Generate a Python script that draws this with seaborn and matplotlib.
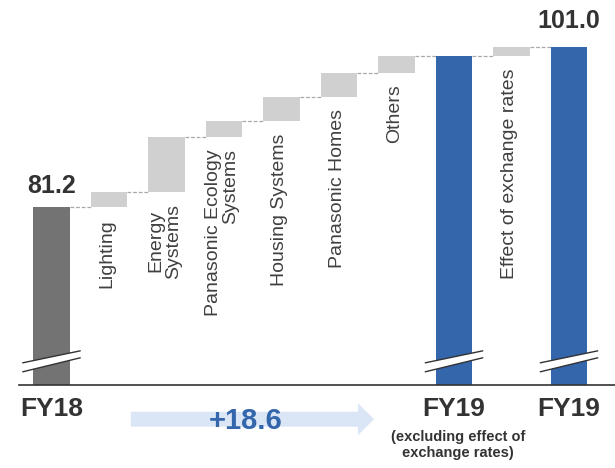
import numpy as np
import pandas as pd
import seaborn as sns
import matplotlib.pyplot as plt
from matplotlib.patches import Polygon, FancyArrow

# values
fy18 = 81.2
segments = ['Lighting', 'Energy Systems', 'Panasonic Ecology Systems',
            'Housing Systems', 'Panasonic Homes', 'Others']
segment_change = [1.9, 6.7, 2.0, 3.0, 3.0, 2.0]
fy19_excl = 99.8
fx_name = 'Effect of exchange rates'
fx_change = 1.2
fy19 = 101.0

seg_labels = ['Lighting', 'Energy\nSystems', 'Panasonic Ecology\nSystems',
              'Housing Systems', 'Panasonic Homes', 'Others']
seg_align = ['center', 'center', 'right', 'center', 'center', 'center']

cats = ['FY18'] + segments + ['FY19 excl', fx_name, 'FY19']

# build waterfall table
tops = np.cumsum([fy18] + segment_change)
totals = pd.DataFrame({'cat': ['FY18', 'FY19 excl', 'FY19'],
                       'value': [fy18, fy19_excl, fy19]})
steps = pd.DataFrame({'cat': segments + [fx_name],
                      'bottom': list(tops[:-1]) + [fy19_excl],
                      'height': segment_change + [fx_change]})

GRAY_TXT = '#404040'
DARK = '#333333'
BLUE = '#3466ac'

sns.set_style('white')
plt.rcParams['font.family'] = ['Liberation Sans', 'DejaVu Sans']

fig = plt.figure(figsize=(6.15, 4.68), dpi=100)
ax = fig.add_axes([19 / 615, 1 - 385 / 468, 1 - 19 / 615, 385 / 468])

sns.barplot(data=totals, x='cat', y='value', hue='cat', order=cats,
            palette={'FY18': '#737373', 'FY19 excl': BLUE, 'FY19': BLUE},
            saturation=1, width=0.64, errorbar=None, legend=False, ax=ax,
            linewidth=0, zorder=2)
sns.barplot(data=steps, x='cat', y='height', order=cats,
            bottom=steps['bottom'].values, color='#d0d0d0',
            saturation=1, width=0.64, errorbar=None, ax=ax,
            linewidth=0, zorder=2)

ax.set_xlim(-0.565, 9.8)
ax.set_ylim(59.2, 106.76)

# dashed connectors between bar tops
conn = [fy18] + list(tops[1:]) + [fy19_excl, fy19_excl + fx_change]
for i in range(len(cats) - 1):
    ax.hlines(conn[i], i + 0.32, i + 1 - 0.32, colors='#a8a8a8',
              linestyles=(0, (3, 1.5)), lw=0.9, zorder=1)

# axis break marks on the total bars
for i in [0, 7, 9]:
    lo = [(i - 0.5, 60.83), (i + 0.5, 62.56)]
    hi = [(i - 0.5, 61.94), (i + 0.5, 63.42)]
    ax.add_patch(Polygon(lo + hi[::-1], closed=True, facecolor='white',
                         edgecolor='none', zorder=3))
    for ln in (lo, hi):
        ax.plot([ln[0][0], ln[1][0]], [ln[0][1], ln[1][1]], color=DARK,
                lw=1, zorder=4)

# rotated segment labels under each floating bar
for k, (lab, al) in enumerate(zip(seg_labels + [fx_name],
                                  seg_align + ['center'])):
    pos = cats.index((segments + [fx_name])[k])
    ax.text(pos - 0.03, steps['bottom'][k] - 1.5, lab, rotation=90,
            ha='center', va='top', multialignment=al, fontsize=14,
            color=GRAY_TXT, linespacing=1.0)

# value labels
ax.text(0, fy18 + 2.6, f'{fy18:.1f}', ha='center', va='center',
        fontsize=18, fontweight='bold', color=DARK)
ax.text(9, fy19 + 3.2, f'{fy19:.1f}', ha='center', va='center',
        fontsize=18, fontweight='bold', color=DARK)

# x tick labels
ax.set_xticks([0, 7, 9], ['FY18', 'FY19', 'FY19'])
ax.tick_params(axis='x', length=0, pad=9, labelsize=19, labelcolor=DARK)
for t in ax.get_xticklabels():
    t.set_fontweight('bold')
ax.set_yticks([])
ax.set_xlabel('')
ax.set_ylabel('')

sns.despine(ax=ax, left=True)
ax.spines['bottom'].set_color(DARK)
ax.spines['bottom'].set_linewidth(1.2)

# growth arrow
arr = FancyArrow(1.38, 54.97, 4.23, 0, width=1.85, head_width=3.95,
                 head_length=0.28, length_includes_head=True,
                 color='#dae6f6', lw=0, clip_on=False)
ax.add_patch(arr)
ax.text(3.37, 54.8, f'+{fy19_excl - fy18:.1f}', ha='center', va='center',
        fontsize=21, fontweight='bold', color=BLUE, clip_on=False)

fig.text(458 / 615, 1 - 445 / 468, '(excluding effect of\nexchange rates)',
         ha='center', va='center', fontsize=10.5, fontweight='bold',
         color=DARK, linespacing=1.1)

fig.savefig('out.png', dpi=100)
